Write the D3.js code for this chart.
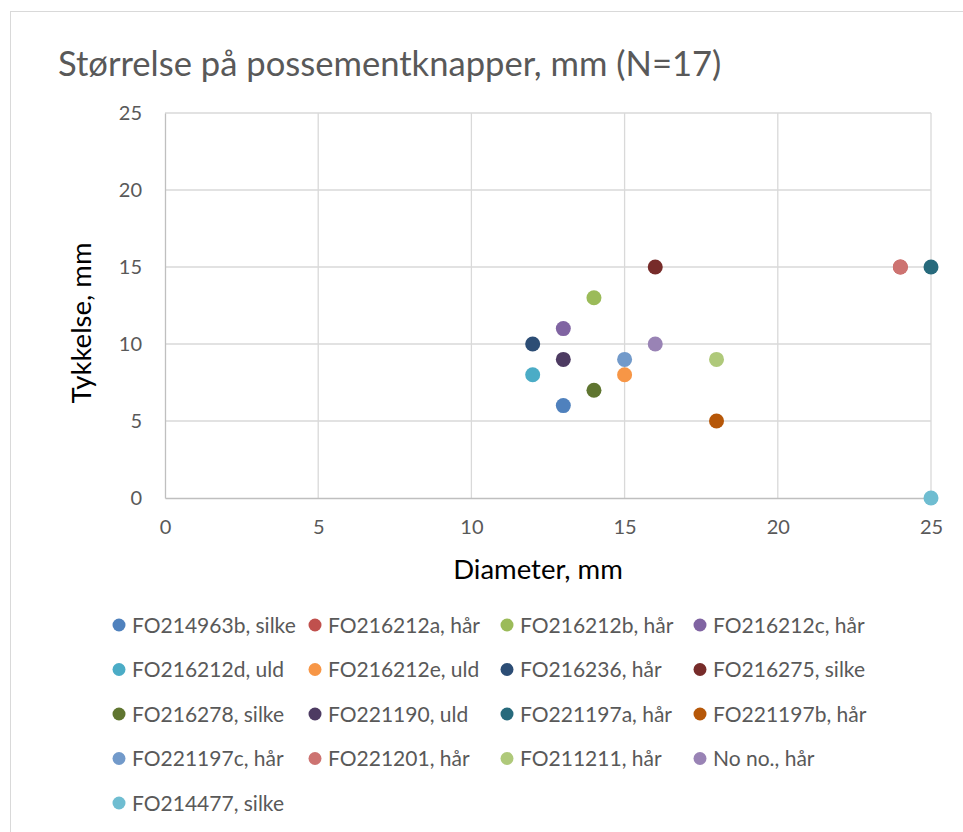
<!DOCTYPE html>
<html>
<head>
<meta charset="utf-8">
<script src="https://cdn.jsdelivr.net/npm/d3@7"></script>
<style>
  body { margin: 0; background: #fff; }
  text { font-family: Lato, "Open Sans", sans-serif; }
</style>
</head>
<body>
<div id="chart"></div>
<script>
let width = 963;
let height = 832;

// Data
let labels = [
    "FO214963b, silke", "FO216212a, hår", "FO216212b, hår", "FO216212c, hår",
    "FO216212d, uld", "FO216212e, uld", "FO216236, hår", "FO216275, silke",
    "FO216278, silke", "FO221190, uld", "FO221197a, hår", "FO221197b, hår",
    "FO221197c, hår", "FO221201, hår", "FO211211, hår", "No no., hår",
    "FO214477, silke"
];
let diameter = [13, 24, 14, 13, 12, 15, 12, 16, 14, 13, 25, 18, 15, 24, 18, 16, 25];
let thickness = [6, 15, 13, 11, 8, 8, 10, 15, 7, 9, 15, 5, 9, 15, 9, 10, 0];
let colors = [
    "#4f81bd", "#c0504d", "#9bbb59", "#8064a2", "#4bacc6", "#f79646",
    "#2c4d75", "#772c2a", "#5f7530", "#4d3b62", "#276a7c", "#b65708",
    "#729aca", "#cd7371", "#afc97a", "#9983b5", "#6fbdd1"
];
let ticks = [0, 5, 10, 15, 20, 25];

let svg = d3.select("#chart")
    .append("svg")
    .attr("width", width)
    .attr("height", height);

// chart frame
svg.append("rect")
    .attr("x", 10.5).attr("y", 11.5)
    .attr("width", width).attr("height", height)
    .attr("fill", "none")
    .attr("stroke", "#d9d9d9");

svg.append("text")
    .attr("x", 58).attr("y", 76)
    .attr("font-size", 34.6)
    .attr("fill", "#595959")
    .text("Størrelse på possementknapper, mm (N=17)");

let x = d3.scaleLinear().domain([0, 25]).range([165, 931]);
let y = d3.scaleLinear().domain([0, 25]).range([498, 113]);

// gridlines
svg.append("g")
    .selectAll("line.v")
    .data(ticks.slice(1))
    .enter()
    .append("line")
    .attr("x1", d => x(d)).attr("x2", d => x(d))
    .attr("y1", y(25)).attr("y2", y(0))
    .attr("stroke", "#d9d9d9").attr("stroke-width", 1.3);

svg.append("g")
    .selectAll("line.h")
    .data(ticks.slice(1))
    .enter()
    .append("line")
    .attr("x1", x(0)).attr("x2", x(25))
    .attr("y1", d => y(d)).attr("y2", d => y(d))
    .attr("stroke", "#d9d9d9").attr("stroke-width", 1.3);

// axes
let xAxis = svg.append("g")
    .attr("transform", `translate(0,${y(0)})`)
    .call(d3.axisBottom(x).tickValues(ticks).tickSize(0).tickPadding(22));
let yAxis = svg.append("g")
    .attr("transform", `translate(${x(0)},0)`)
    .call(d3.axisLeft(y).tickValues(ticks).tickSize(0).tickPadding(23));

[xAxis, yAxis].forEach(a => {
    a.select(".domain").attr("stroke", "#bfbfbf").attr("stroke-width", 1.3);
    a.selectAll("text")
        .attr("font-family", "Lato, 'Open Sans', sans-serif")
        .attr("font-size", 20)
        .attr("fill", "#595959");
});

svg.append("text")
    .attr("x", 538).attr("y", 579)
    .attr("text-anchor", "middle")
    .attr("font-size", 27.5)
    .attr("fill", "#000")
    .text("Diameter, mm");

svg.append("text")
    .attr("transform", "translate(91,323) rotate(-90)")
    .attr("text-anchor", "middle")
    .attr("font-size", 27.5)
    .attr("fill", "#000")
    .text("Tykkelse, mm");

// points
svg.append("g")
    .selectAll("circle")
    .data(labels)
    .enter()
    .append("circle")
    .attr("cx", (d, i) => x(diameter[i]))
    .attr("cy", (d, i) => y(thickness[i]))
    .attr("r", 7.5)
    .attr("fill", (d, i) => colors[i]);

// legend, 4 columns
let colX = [119, 315, 507, 700];
let legend = svg.append("g")
    .selectAll("g")
    .data(labels)
    .enter()
    .append("g")
    .attr("transform", (d, i) => `translate(${colX[i % 4]},${625 + Math.floor(i / 4) * 44.5})`);

legend.append("circle")
    .attr("r", 6.5)
    .attr("fill", (d, i) => colors[i]);

legend.append("text")
    .attr("x", 13).attr("y", 7.5)
    .attr("font-size", 21)
    .attr("fill", "#595959")
    .text(d => d);
</script>
</body>
</html>
